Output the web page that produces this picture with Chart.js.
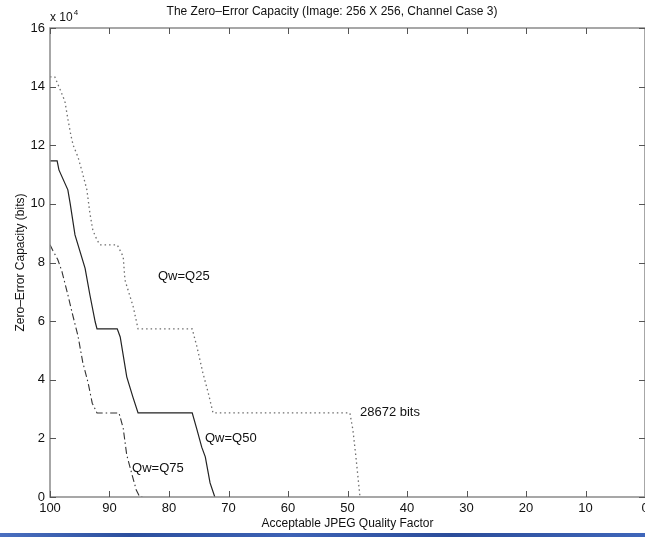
<!DOCTYPE html>
<html><head><meta charset="utf-8">
<script src="https://cdn.jsdelivr.net/npm/chart.js@4"></script>
<style>
html,body{margin:0;padding:0;background:#fff;}
#wrap{position:relative;width:645px;height:537px;overflow:hidden;}
#bar{position:absolute;left:0;bottom:0;width:645px;height:4px;background:linear-gradient(90deg,#4a6fc0,#2c4f9e 20%,#3d62b5 45%,#2b4c9a 70%,#3f66ba);}
</style></head><body>
<div id="wrap"><canvas id="c" width="645" height="537"></canvas><div id="bar"></div></div>
<script>
// ---- data ----
const qualityQ25 = [100, 99.2, 98.3, 97.5, 97.0, 96.5, 96.1, 95.3, 94.6, 93.8, 93.3, 92.8, 92.1, 91.6, 88.7, 87.7, 87.4, 86.0, 85.2, 76.1, 75.3, 74.3, 73.4, 72.6, 49.6, 49.1, 48.6, 47.9];
const capacityQ25 = [143360, 143360, 139000, 135000, 129000, 123500, 120000, 116000, 111000, 104800, 96900, 91000, 87700, 86016, 86016, 82000, 74000, 64800, 57344, 57344, 51200, 42300, 35500, 28672, 28672, 23000, 14000, 0];

const qualityQ50 = [100, 98.8, 98.5, 97.0, 96.6, 95.8, 94.1, 93.3, 92.4, 92.1, 88.7, 88.2, 87.1, 86.05, 85.2, 76.1, 75.3, 74.5, 73.9, 73.1, 72.3];
const capacityQ50 = [114688, 114688, 111600, 104800, 100000, 89400, 78000, 69000, 59700, 57344, 57344, 54600, 41000, 34000, 28672, 28672, 23000, 17000, 13700, 4800, 0];

const qualityQ75 = [100, 99.5, 98.7, 98.0, 97.0, 96.3, 95.3, 94.5, 93.6, 92.9, 92.1, 88.4, 87.7, 87.1, 86.2, 85.5, 84.9, 84.0];
const capacityQ75 = [86016, 84000, 81000, 77000, 69000, 63000, 55000, 46000, 39000, 32000, 28672, 28672, 23500, 14300, 7500, 2400, 0, 0];

const xTickValues = [100, 90, 80, 70, 60, 50, 40, 30, 20, 10, 0];
const yTickValues = [0, 2, 4, 6, 8, 10, 12, 14, 16]; // x 10^4

const noteTexts = ["Qw=Q25", "28672 bits", "Qw=Q50", "Qw=Q75"];
const noteQuality = [81.85, 47.9, 73.95, 86.2];
const noteCapacity = [75100, 28900, 20100, 9700];

const titleText = "The Zero\u2013Error Capacity (Image: 256 X 256, Channel Case 3)";
const xTitle = "Acceptable JPEG Quality Factor";
const yTitle = "Zero\u2013Error Capacity (bits)";

// ---- helpers ----
const pts = (xs, ys) => xs.map((x, i) => ({x: x, y: ys[i]}));
const FONT = "'Liberation Sans', Arial, Helvetica, sans-serif";
const TXT = '#111';

const framePlugin = {
  id: 'frame',
  afterDatasetsDraw(chart) {
    const ctx = chart.ctx;
    const xs = chart.scales.x, ys = chart.scales.y;
    ctx.save();
    ctx.font = '13px ' + FONT;
    ctx.fillStyle = TXT;
    ctx.textBaseline = 'middle';
    ctx.textAlign = 'left';
    noteTexts.forEach((t, i) => {
      ctx.fillText(t, xs.getPixelForValue(noteQuality[i]), ys.getPixelForValue(noteCapacity[i]));
    });
    ctx.restore();
  },
  afterDraw(chart) {
    const ctx = chart.ctx;
    const a = chart.chartArea;
    const xs = chart.scales.x, ys = chart.scales.y;
    ctx.save();
    ctx.strokeStyle = '#8a8a8a';
    ctx.lineWidth = 1.5;
    ctx.strokeRect(a.left, a.top, a.right - a.left, a.bottom - a.top);
    ctx.strokeStyle = '#555';
    ctx.lineWidth = 1;
    ctx.beginPath();
    xTickValues.forEach(v => {
      const p = Math.round(xs.getPixelForValue(v)) + 0.5;
      ctx.moveTo(p, a.bottom); ctx.lineTo(p, a.bottom - 6);
      ctx.moveTo(p, a.top); ctx.lineTo(p, a.top + 6);
    });
    yTickValues.forEach(v => {
      const p = Math.round(ys.getPixelForValue(v * 10000)) + 0.5;
      ctx.moveTo(a.left, p); ctx.lineTo(a.left + 6, p);
      ctx.moveTo(a.right, p); ctx.lineTo(a.right - 6, p);
    });
    ctx.stroke();
    // title
    ctx.fillStyle = TXT;
    ctx.font = '12px ' + FONT;
    ctx.textAlign = 'center';
    ctx.textBaseline = 'middle';
    ctx.fillText(titleText, 332, 12);
    // exponent label
    ctx.textAlign = 'left';
    ctx.font = '12px ' + FONT;
    ctx.fillText('x 10', a.left, 18);
    const w = ctx.measureText('x 10').width;
    ctx.font = '8px ' + FONT;
    ctx.fillText('4', a.left + w + 1, 13);
    ctx.restore();
  }
};

new Chart(document.getElementById('c'), {
  type: 'scatter',
  data: {
    datasets: [
      { label: 'Qw=Q25', data: pts(qualityQ25, capacityQ25), showLine: true, borderColor: '#6e6e6e', borderWidth: 1.3, borderDash: [1.5, 3], pointRadius: 0, tension: 0, fill: false },
      { label: 'Qw=Q50', data: pts(qualityQ50, capacityQ50), showLine: true, borderColor: '#222', borderWidth: 1.2, pointRadius: 0, tension: 0, fill: false },
      { label: 'Qw=Q75', data: pts(qualityQ75, capacityQ75), showLine: true, borderColor: '#333', borderWidth: 1.1, borderDash: [7, 3, 1.5, 3], pointRadius: 0, tension: 0, fill: false }
    ]
  },
  options: {
    responsive: false,
    animation: false,
    layout: { padding: { top: 28, right: 0, left: 0, bottom: 0 } },
    plugins: { legend: { display: false }, tooltip: { enabled: false }, title: { display: false } },
    scales: {
      x: {
        type: 'linear', reverse: true, min: 0, max: 100,
        afterBuildTicks: s => { s.ticks = xTickValues.map(v => ({value: v})); },
        ticks: { font: { size: 13, family: FONT }, color: TXT, padding: 4, maxRotation: 0, autoSkip: false },
        grid: { display: false, drawTicks: false },
        border: { display: false },
        title: { display: true, text: xTitle, font: { size: 12, family: FONT }, color: TXT, padding: { top: 0, bottom: 6 } },
        afterFit: s => { s.height = 40; s.paddingLeft = 0; s.paddingRight = 0; }
      },
      y: {
        type: 'linear', min: 0, max: 160000,
        afterBuildTicks: s => { s.ticks = yTickValues.map(v => ({value: v * 10000})); },
        ticks: { font: { size: 13, family: FONT }, color: TXT, padding: 5, callback: v => String(v / 10000) },
        grid: { display: false, drawTicks: false },
        border: { display: false },
        title: { display: true, text: yTitle, font: { size: 12, family: FONT }, color: TXT, padding: { top: 13, bottom: 0 } },
        afterFit: s => { s.width = 50; s.paddingTop = 0; s.paddingBottom = 0; }
      }
    }
  },
  plugins: [framePlugin]
});
</script>
</body></html>
